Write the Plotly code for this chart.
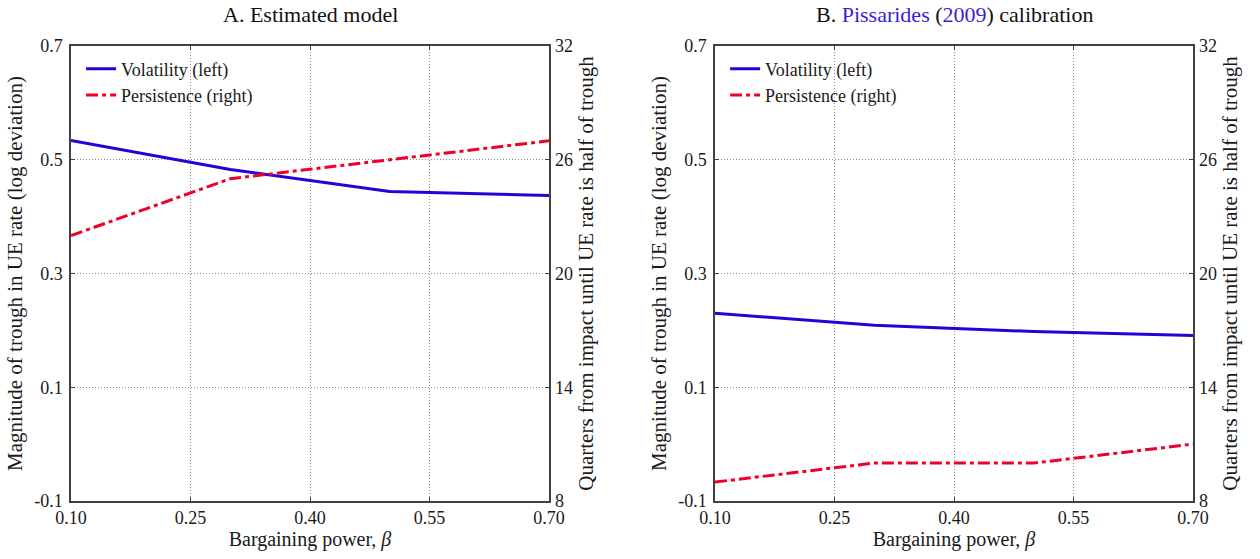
import plotly.graph_objects as go

beta = [0.1, 0.3, 0.5, 0.7]
vol_a = [0.534, 0.483, 0.444, 0.437]
pers_a = [22, 25, 26, 27]
vol_b = [0.230, 0.209, 0.198, 0.191]
pers_b = [9, 10, 10, 11]

x_ticks = [0.10, 0.25, 0.40, 0.55, 0.70]
x_ticktext = ["0.10", "0.25", "0.40", "0.55", "0.70"]
yl_ticks = [-0.1, 0.1, 0.3, 0.5, 0.7]
yl_ticktext = ["-0.1", "0.1", "0.3", "0.5", "0.7"]
yr_ticks = [8, 14, 20, 26, 32]
yr_ticktext = ["8", "14", "20", "26", "32"]

BLUE = "#2a00d8"
RED = "#ee0028"
FONT = "Liberation Serif, DejaVu Serif, serif"
AX = "#404040"

fig = go.Figure()
fig.add_trace(go.Scatter(x=beta, y=vol_a, mode="lines", name="Volatility (left)",
                         line=dict(color=BLUE, width=3), xaxis="x", yaxis="y", legend="legend"))
fig.add_trace(go.Scatter(x=beta, y=pers_a, mode="lines", name="Persistence (right)",
                         line=dict(color=RED, width=3, dash="12px,4px,4px,4px"), xaxis="x", yaxis="y2", legend="legend"))
fig.add_trace(go.Scatter(x=beta, y=vol_b, mode="lines", name="Volatility (left)",
                         line=dict(color=BLUE, width=3), xaxis="x2", yaxis="y3", legend="legend2"))
fig.add_trace(go.Scatter(x=beta, y=pers_b, mode="lines", name="Persistence (right)",
                         line=dict(color=RED, width=3, dash="12px,4px,4px,4px"), xaxis="x2", yaxis="y4", legend="legend2"))

W, H = 1260, 559
dA = [71 / W, 549 / W]
dB = [715 / W, 1193 / W]
dy = [1 - 501 / H, 1 - 46 / H]

TXT = "#1a1a1a"
tickfont = dict(family=FONT, size=18, color=TXT)
titlefont = dict(family=FONT, size=21, color=TXT)
GRID = "#8c8c8c"

def xax(domain, anchor):
    return dict(domain=domain, anchor=anchor, range=[0.1, 0.7], tickvals=x_ticks, ticktext=x_ticktext,
                showgrid=True, gridcolor=GRID, griddash="1px,2px", gridwidth=1,
                showline=True, linecolor=AX, linewidth=1.5, mirror="ticks",
                ticks="inside", ticklen=4, tickcolor=AX, tickfont=tickfont, ticklabelstandoff=0,
                title=dict(text="Bargaining power, <i>β</i>", font=dict(family=FONT, size=20, color=TXT), standoff=2),
                zeroline=False)

def ylax(domain, anchor):
    return dict(domain=domain, anchor=anchor, range=[-0.1, 0.7], tickvals=yl_ticks, ticktext=yl_ticktext,
                showgrid=True, gridcolor=GRID, griddash="1px,2px", gridwidth=1,
                showline=True, linecolor=AX, linewidth=1.5, mirror="ticks",
                ticks="inside", ticklen=4, tickcolor=AX, tickfont=tickfont, ticklabelstandoff=3,
                title=dict(text="Magnitude of trough in UE rate (log deviation)", font=titlefont, standoff=6),
                zeroline=False)

def yrax(overlay, anchor):
    return dict(overlaying=overlay, anchor=anchor, side="right", range=[8, 32], tickvals=yr_ticks,
                ticktext=yr_ticktext, showgrid=False, showline=False,
                ticks="inside", ticklen=4, tickcolor=AX, tickfont=tickfont, ticklabelstandoff=5,
                title=dict(text="Quarters from impact until UE rate is half of trough", font=titlefont, standoff=6),
                zeroline=False)

legfont = dict(family=FONT, size=18, color=TXT)
fig.update_layout(
    width=W, height=H,
    margin=dict(l=0, r=0, t=0, b=0, autoexpand=False),
    paper_bgcolor="white", plot_bgcolor="white",
    xaxis=xax(dA, "y"),
    yaxis=ylax(dy, "x"),
    yaxis2=yrax("y", "x"),
    xaxis2=xax(dB, "y3"),
    yaxis3=ylax(dy, "x2"),
    yaxis4=yrax("y3", "x2"),
    legend=dict(x=dA[0] + 0.008, y=dy[1] - 0.008, xanchor="left", yanchor="top", xref="paper", yref="paper",
                bgcolor="rgba(0,0,0,0)", font=legfont, tracegroupgap=0, itemwidth=30),
    legend2=dict(x=dB[0] + 0.008, y=dy[1] - 0.008, xanchor="left", yanchor="top", xref="paper", yref="paper",
                 bgcolor="rgba(0,0,0,0)", font=legfont, tracegroupgap=0, itemwidth=30),
    annotations=[
        dict(text="A. Estimated model", x=(dA[0] + dA[1]) / 2, y=1 - 15 / H, xref="paper", yref="paper",
             xanchor="center", yanchor="middle", showarrow=False, font=dict(family=FONT, size=22, color="#111")),
        dict(text="B. <span style='color:#3a1fd8'>Pissarides</span> (<span style='color:#3a1fd8'>2009</span>) calibration",
             x=(dB[0] + dB[1]) / 2, y=1 - 15 / H, xref="paper", yref="paper",
             xanchor="center", yanchor="middle", showarrow=False, font=dict(family=FONT, size=22, color="#111")),
    ],
)

fig.write_html("out.html", config={"displayModeBar": False},
               post_script="document.body.style.margin='0';document.body.style.padding='0';")
